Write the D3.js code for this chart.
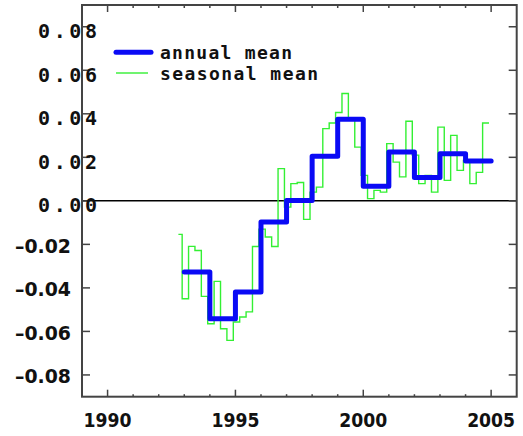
<!DOCTYPE html>
<html lang="en">
<meta charset="utf-8">
<style>
body { margin: 0; background: #fff; }
.frame { fill: none; stroke: #444; stroke-width: 2px; }
.tick { stroke: #444; stroke-width: 1.5px; }
.zero { stroke: #000; stroke-width: 1.5px; }
.annual { fill: none; stroke: #0a0af5; stroke-width: 5px; stroke-linejoin: round; stroke-linecap: round; }
.seasonal { fill: none; stroke: #33f033; stroke-width: 1.4px; }
.lab { font-family: "DejaVu Sans", sans-serif; font-weight: bold; fill: #111; }
.mono { font-family: "DejaVu Sans Mono", monospace; font-weight: bold; fill: #111; }
</style>
<body>
<script src="https://d3js.org/d3.v7.min.js"></script>
<script>

// annual mean, one value per calendar year
var annualYears = [1993, 1994, 1995, 1996, 1997, 1998, 1999, 2000, 2001, 2002, 2003, 2004];
var annualMean = [-0.0327, -0.0542, -0.0419, -0.0097, 0.0002, 0.0205, 0.0375, 0.0067, 0.0224, 0.0107, 0.0217, 0.0183];

// seasonal mean, SON 1992 then DJF/MAM/JJA/SON for 1993..2004
var seasonalMean = [-0.0154,
  -0.0450, -0.0209, -0.0228, -0.0439,
  -0.0565, -0.0370, -0.0588, -0.0641,
  -0.0557, -0.0534, -0.0510, -0.0210,
  -0.0130, -0.0166, -0.0210, 0.0148,
  -0.0029, 0.0079, 0.0084, -0.0085,
  0.0040, 0.0063, 0.0332, 0.0358,
  0.0406, 0.0493, 0.0380, 0.0247,
  0.0117, 0.0010, 0.0048, 0.0040,
  0.0263, 0.0178, 0.0110, 0.0366,
  0.0210, 0.0079, 0.0117, 0.0040,
  0.0339, 0.0094, 0.0301, 0.0140,
  0.0186, 0.0079, 0.0131, 0.0358];

var xMajor = [1990, 1995, 2000, 2005];
var xMinor = d3.range(1990, 2006);
var yTicks = [-0.08, -0.06, -0.04, -0.02, 0.00, 0.02, 0.04, 0.06, 0.08];
var yLabels = ["\u20130.08", "\u20130.06", "\u20130.04", "\u20130.02", "0.00", "0.02", "0.04", "0.06", "0.08"];
var legendNames = ["annual mean", "seasonal mean"];

var margin = {top: 5, right: 6.3, bottom: 39.3, left: 82},
    W = 523, H = 436,
    width = W - margin.left - margin.right,
    height = H - margin.top - margin.bottom;

var x = d3.scaleLinear().domain([1989, 2006]).range([margin.left, margin.left + width]);
var y = d3.scaleLinear().domain([-0.09, 0.09]).range([margin.top + height, margin.top]);

var svg = d3.select("body").append("svg")
    .attr("width", W)
    .attr("height", H);

// zero line
svg.append("line")
    .attr("class", "zero")
    .attr("x1", x.range()[0]).attr("x2", x.range()[1])
    .attr("y1", y(0)).attr("y2", y(0));

// seasonal steps
var firstStart = 1992.77, seasonStart = 1992.917;
var sPts = seasonalMean.map(function(v, i) {
  return [i === 0 ? firstStart : seasonStart + (i - 1) * 0.25, v];
});
sPts.push([seasonStart + (seasonalMean.length - 1) * 0.25, seasonalMean[seasonalMean.length - 1]]);

var stepLine = d3.line()
    .x(function(d) { return x(d[0]); })
    .y(function(d) { return y(d[1]); })
    .curve(d3.curveStepAfter);

svg.append("path")
    .datum(sPts)
    .attr("class", "seasonal")
    .attr("d", stepLine);

// annual steps
var aPts = annualYears.map(function(yr, i) { return [yr, annualMean[i]]; });
aPts.push([annualYears[annualYears.length - 1] + 1, annualMean[annualMean.length - 1]]);

svg.append("path")
    .datum(aPts)
    .attr("class", "annual")
    .attr("d", stepLine);

// frame
svg.append("rect")
    .attr("class", "frame")
    .attr("x", margin.left).attr("y", margin.top)
    .attr("width", width).attr("height", height);

// x ticks, bottom and top, pointing inward
var yb = margin.top + height, yt = margin.top;
xMinor.forEach(function(v) {
  var len = xMajor.indexOf(v) >= 0 ? 7 : 2.5;
  svg.append("line").attr("class", "tick")
      .attr("x1", x(v)).attr("x2", x(v))
      .attr("y1", yb).attr("y2", yb - len);
  svg.append("line").attr("class", "tick")
      .attr("x1", x(v)).attr("x2", x(v))
      .attr("y1", yt).attr("y2", yt + (xMajor.indexOf(v) >= 0 ? 7 : 3));
});

// y ticks, left and right
var xl = margin.left, xr = margin.left + width;
yTicks.forEach(function(v) {
  svg.append("line").attr("class", "tick")
      .attr("x1", xl).attr("x2", xl + 8)
      .attr("y1", y(v)).attr("y2", y(v));
  svg.append("line").attr("class", "tick")
      .attr("x1", xr).attr("x2", xr - 8)
      .attr("y1", y(v)).attr("y2", y(v));
});

// y labels
yTicks.forEach(function(v, i) {
  if (v < 0) {
    svg.append("text").attr("class", "lab")
        .attr("x", 15).attr("y", y(v) + 8.5)
        .attr("font-size", 20)
        .attr("textLength", 56)
        .attr("lengthAdjust", "spacingAndGlyphs")
        .text(yLabels[i]);
  } else {
    svg.append("text").attr("class", "mono")
        .attr("x", 38).attr("y", y(v) + 11.5)
        .attr("font-size", 20)
        .attr("textLength", 59)
        .attr("lengthAdjust", "spacing")
        .text(yLabels[i]);
  }
});

// x labels
xMajor.forEach(function(v) {
  svg.append("text").attr("class", "lab")
      .attr("x", x(v) - 24).attr("y", 427)
      .attr("font-size", 20)
      .attr("textLength", 48)
      .attr("lengthAdjust", "spacingAndGlyphs")
      .text(v);
});

// legend
var legend = [
  {cls: "annual", y: 52.3, x2: 151, w: 132},
  {cls: "seasonal", y: 73, x2: 148, w: 158}
];
legend.forEach(function(d, i) {
  svg.append("line").attr("class", d.cls)
      .attr("x1", 116).attr("x2", d.x2)
      .attr("y1", d.y).attr("y2", d.y);
  svg.append("text").attr("class", "mono")
      .attr("x", 160).attr("y", d.y + 6.5)
      .attr("font-size", 18)
      .attr("textLength", d.w)
      .attr("lengthAdjust", "spacing")
      .text(legendNames[i]);
});

</script>
</body>
</html>
